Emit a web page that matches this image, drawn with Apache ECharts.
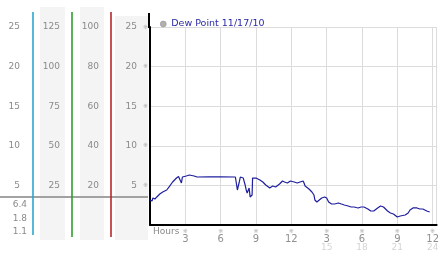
<!DOCTYPE html>
<html>
<head>
<meta charset="utf-8">
<script src="https://cdn.jsdelivr.net/npm/echarts@6/dist/echarts.min.js"></script>
<style>
html,body{margin:0;padding:0;background:#fff;}
#chart{width:442px;height:253px;}
</style>
</head>
<body>
<div id="chart"></div>
<script>
// ---- data ----
const seriesName = 'Dew Point 11/17/10';
const hours = [0, 0.17, 0.25, 0.42, 0.58, 0.83, 1.08, 1.42, 1.67, 1.92, 2.25, 2.42, 2.58, 2.67, 2.75, 3.08, 3.33, 3.75, 4.0, 5.0, 6.0, 7.25,
  7.33, 7.42, 7.5, 7.58, 7.67, 7.75, 7.92, 8.08, 8.17, 8.25, 8.42, 8.5, 8.58, 8.67, 8.71, 8.75, 9.0, 9.33, 9.58, 9.83, 10.17, 10.42, 10.67,
  11.0, 11.25, 11.42, 11.67, 11.83, 11.92, 12.25, 12.5, 12.75, 13.0, 13.08, 13.17, 13.33, 13.5, 13.58, 13.75, 13.92, 14.0, 14.17, 14.33,
  14.58, 14.83, 15.0, 15.17, 15.42, 15.67, 16.0, 16.25, 16.5, 16.83, 17.08, 17.33, 17.67, 17.92, 18.17, 18.5, 18.75, 19.0, 19.33, 19.58,
  19.83, 20.17, 20.42, 20.67, 21.0, 21.08, 21.25, 21.67, 21.92, 22.08, 22.33, 22.67, 22.92, 23.17, 23.5, 23.75];
const dewPoint = [3.16, 3.03, 3.41, 3.28, 3.54, 3.91, 4.17, 4.42, 4.92, 5.43, 5.93, 6.12, 6.19, 5.3, 6.06, 6.19, 6.31, 6.19, 6.06, 6.08, 6.08, 6.06,
  5.93, 4.42, 4.67, 5.43, 6.06, 6.06, 5.93, 5.05, 4.42, 4.04, 4.67, 3.54, 3.41, 3.79, 5.93, 5.93, 5.93, 5.68, 5.43, 5.05, 4.67, 4.92, 4.8,
  5.18, 5.56, 5.43, 5.3, 5.43, 5.56, 5.43, 5.3, 5.43, 5.56, 5.3, 4.92, 4.67, 4.55, 4.42, 4.17, 3.79, 3.16, 2.9, 3.03,
  3.41, 3.54, 3.41, 2.9, 2.65, 2.65, 2.78, 2.65, 2.53, 2.4, 2.27, 2.27, 2.15, 2.27, 2.27, 2.02, 1.77, 1.77, 2.15, 2.4,
  2.27, 1.77, 1.52, 1.39, 1.01, 1.01, 1.14, 1.26, 1.52, 1.89, 2.15, 2.15, 2.02, 2.02, 1.77, 1.64];
const xTickLabels = ['3', '6', '9', '12', '3', '6', '9', '12'];
const xTickLabels2 = ['', '', '', '', '15', '18', '21', '24'];
const statLabels = ['6.4', '1.8', '1.1'];

const FONT = 'DejaVu Sans';
const chart = echarts.init(document.getElementById('chart'), null, {renderer: 'canvas'});

function sideAxis(max, interval, offset, margin) {
  return {
    type: 'value', position: 'left', offset: offset, min: 0, max: max, interval: interval,
    axisLine: {show: false}, axisTick: {show: false}, splitLine: {show: false},
    axisLabel: {
      margin: margin, color: '#8a8a8a', fontSize: 9, fontFamily: FONT,
      formatter: v => v === 0 ? '' : String(v)
    }
  };
}

const option = {
  animation: false,
  backgroundColor: '#fff',
  grid: {left: 150, right: 0, top: 27, bottom: 28, containLabel: false},
  legend: {
    data: [seriesName], left: 155, top: 14, icon: 'circle', itemWidth: 6, itemHeight: 6,
    itemStyle: {color: '#b0b0b0', borderColor: '#888', borderWidth: 0.5},
    textStyle: {color: '#2a2aa8', fontSize: 9.5, fontFamily: FONT}
  },
  xAxis: {
    type: 'value', min: 0, max: 24.34, interval: 3,
    axisLine: {show: true, lineStyle: {color: '#000', width: 2}},
    axisTick: {show: false},
    splitLine: {show: true, lineStyle: {color: '#dcdcdc', width: 1}},
    axisLabel: {
      margin: 3, verticalAlign: 'top', fontFamily: FONT,
      formatter: function (v) {
        const i = Math.round(v / 3) - 1;
        if (i < 0 || Math.abs(v - (i + 1) * 3) > 0.01 || i >= xTickLabels.length) return '';
        let s = '{m|※}\n{a|' + xTickLabels[i] + '}';
        if (xTickLabels2[i]) s += '\n{b|' + xTickLabels2[i] + '}';
        return s;
      },
      rich: {
        m: {fontSize: 6, color: '#a8a8a8', lineHeight: 6, fontFamily: FONT},
        a: {fontSize: 10, color: '#909090', lineHeight: 10, fontFamily: FONT},
        b: {fontSize: 9, color: '#d4d4d4', lineHeight: 8, fontFamily: FONT}
      }
    }
  },
  yAxis: [
    {
      type: 'value', position: 'left', min: 0, max: 25, interval: 5,
      axisLine: {show: true, lineStyle: {color: '#000', width: 2}},
      axisTick: {show: false},
      splitLine: {show: true, lineStyle: {color: '#dcdcdc', width: 1}},
      axisLabel: {
        margin: 2, fontFamily: FONT,
        formatter: v => v === 0 ? '' : '{a|' + v + '}{m|※}',
        rich: {
          a: {fontSize: 9, color: '#8a8a8a', fontFamily: FONT},
          m: {fontSize: 6, color: '#a8a8a8', padding: [0, 0, 0, 6], fontFamily: FONT}
        }
      }
    },
    sideAxis(25, 5, 117, 13),
    sideAxis(125, 25, 78, 12),
    sideAxis(100, 20, 39, 12)
  ],
  series: [{
    name: seriesName, type: 'line', yAxisIndex: 0, showSymbol: false, symbol: 'none',
    lineStyle: {color: '#1e1e9e', width: 1.2},
    itemStyle: {color: '#1e1e9e'},
    data: hours.map((h, i) => [h, dewPoint[i]])
  }],
  graphic: [
    {type: 'rect', z: -10, shape: {x: 40, y: 7, width: 25, height: 233}, style: {fill: '#f4f4f4'}},
    {type: 'rect', z: -10, shape: {x: 80, y: 7, width: 24, height: 233}, style: {fill: '#f4f4f4'}},
    {type: 'rect', z: -10, shape: {x: 115, y: 16, width: 33, height: 224}, style: {fill: '#f4f4f4'}},
    {type: 'line', z: 5, shape: {x1: 0, y1: 197, x2: 148, y2: 197}, style: {stroke: '#a2a2a2', lineWidth: 2}},
    {type: 'line', z: 6, shape: {x1: 33, y1: 12, x2: 33, y2: 235}, style: {stroke: '#2aa8d0', lineWidth: 1.6}},
    {type: 'line', z: 6, shape: {x1: 72, y1: 12, x2: 72, y2: 237}, style: {stroke: '#2f9e2f', lineWidth: 1.6}},
    {type: 'line', z: 6, shape: {x1: 111, y1: 12, x2: 111, y2: 237}, style: {stroke: '#b82828', lineWidth: 1.6}},
    {type: 'line', z: 6, shape: {x1: 149, y1: 13, x2: 149, y2: 28}, style: {stroke: '#000', lineWidth: 2}},
    {type: 'text', z: 6, x: 27, y: 205, style: {text: statLabels[0], fill: '#8a8a8a', font: '9px "DejaVu Sans"', textAlign: 'right', textVerticalAlign: 'middle'}},
    {type: 'text', z: 6, x: 27, y: 219, style: {text: statLabels[1], fill: '#8a8a8a', font: '9px "DejaVu Sans"', textAlign: 'right', textVerticalAlign: 'middle'}},
    {type: 'text', z: 6, x: 27, y: 232, style: {text: statLabels[2], fill: '#8a8a8a', font: '9px "DejaVu Sans"', textAlign: 'right', textVerticalAlign: 'middle'}},
    {type: 'text', z: 6, x: 153, y: 232, style: {text: 'Hours', fill: '#8a8a8a', font: '9px "DejaVu Sans"', textAlign: 'left', textVerticalAlign: 'middle'}}
  ]
};
chart.setOption(option);
</script>
</body>
</html>
